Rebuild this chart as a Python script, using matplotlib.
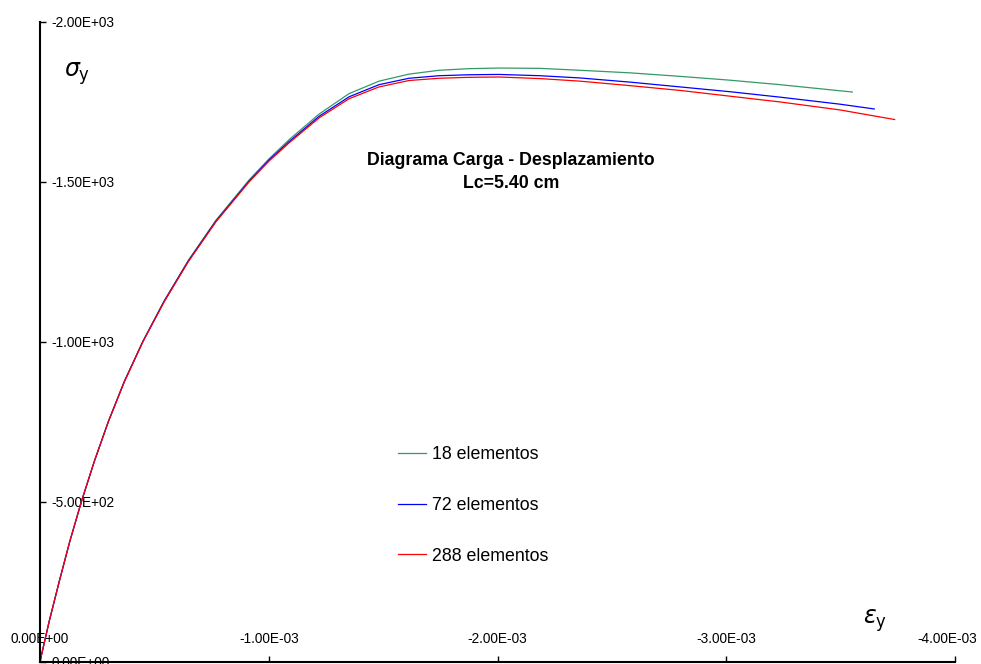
import numpy as np
import matplotlib.pyplot as plt
from matplotlib.ticker import FuncFormatter
from matplotlib.transforms import ScaledTranslation

plt.rcParams['font.family'] = ['Liberation Sans', 'DejaVu Sans']

# strain (x1e-3) and stress for each mesh
eps_288 = [0, -0.040, -0.084, -0.130, -0.181, -0.237, -0.299, -0.369, -0.450, -0.543,
           -0.648, -0.769, -0.914, -1.001, -1.089, -1.220, -1.351, -1.482, -1.613,
           -1.744, -1.875, -2.007, -2.186, -2.361, -2.579, -2.798, -3.016, -3.235,
           -3.497, -3.736]
sig_288 = [0, -125, -250, -375, -500, -625, -750, -875, -1000, -1125,
           -1250, -1375, -1500, -1565, -1622, -1700, -1760, -1797, -1817,
           -1824, -1827, -1828, -1823, -1815, -1801, -1786, -1768, -1750,
           -1725, -1695]

eps_72 = [0, -0.040, -0.084, -0.130, -0.181, -0.237, -0.299, -0.369, -0.450, -0.543,
          -0.648, -0.769, -0.914, -1.001, -1.089, -1.220, -1.351, -1.482, -1.613,
          -1.744, -1.875, -2.007, -2.186, -2.361, -2.579, -2.798, -3.016, -3.235,
          -3.497, -3.647]
sig_72 = [0, -125, -250, -375, -500, -625, -751, -876, -1001, -1127,
          -1252, -1377, -1502, -1568, -1626, -1705, -1766, -1804, -1824,
          -1832, -1835, -1836, -1832, -1825, -1812, -1797, -1782, -1765,
          -1743, -1728]

eps_18 = [0, -0.040, -0.084, -0.130, -0.181, -0.237, -0.299, -0.369, -0.450, -0.543,
          -0.648, -0.769, -0.914, -1.001, -1.089, -1.220, -1.351, -1.482, -1.613,
          -1.744, -1.875, -2.007, -2.186, -2.361, -2.579, -2.798, -3.016, -3.235,
          -3.551]
sig_18 = [0, -125, -250, -375, -500, -625, -751, -877, -1002, -1128,
          -1254, -1380, -1506, -1572, -1632, -1712, -1776, -1815, -1837,
          -1849, -1854, -1856, -1855, -1849, -1841, -1830, -1818, -1804,
          -1781]

labels = ['18 elementos', '72 elementos', '288 elementos']
colors = ['#339966', '#0000FF', '#FF0000']

fig = plt.figure(figsize=(9.81, 6.64), dpi=100)
ax = fig.add_axes([40/981, 2.5/664, 915/981, 639.5/664])

series = [(eps_18, sig_18), (eps_72, sig_72), (eps_288, sig_288)]
for (e, s), lab, c in zip(series, labels, colors):
    ax.plot(np.array(e) * 1e-3, s, color=c, lw=0.9, label=lab)

ax.set_xlim(0, -0.004)
ax.set_ylim(0, -2000)
ax.set_xticks([0, -0.001, -0.002, -0.003, -0.004])
ax.set_yticks([0, -500, -1000, -1500, -2000])
fmt = FuncFormatter(lambda v, p: f"{v:.2E}")
ax.xaxis.set_major_formatter(fmt)
ax.yaxis.set_major_formatter(fmt)

for sp in ['top', 'right']:
    ax.spines[sp].set_visible(False)
for sp in ['left', 'bottom']:
    ax.spines[sp].set_linewidth(1.5)

ax.tick_params(axis='both', direction='in', length=4, width=1, labelsize=9.8)
ax.tick_params(axis='y', pad=-8.2)
ax.tick_params(axis='x', pad=-11)
for t in ax.get_yticklabels():
    t.set_horizontalalignment('left')
for t in ax.get_xticklabels():
    t.set_verticalalignment('bottom')
# last x label is pulled in so it stays inside the picture
last = ax.get_xticklabels()[-1]
last.set_transform(last.get_transform() + ScaledTranslation(-0.08, 0, fig.dpi_scale_trans))

fig.text(511/981, 1 - 172/664, 'Diagrama Carga - Desplazamiento\nLc=5.40 cm',
         ha='center', va='center', fontsize=12.8, fontweight='bold', linespacing=1.45)

fig.text(64/981, 1 - 74/664, r'$\sigma_{\mathrm{y}}$', fontsize=17, va='center')
fig.text(863/981, 1 - 621/664, r'$\varepsilon_{\mathrm{y}}$', fontsize=17, va='center')

ax.legend(loc='upper left', bbox_to_anchor=(398/981, 1 - 446/664),
          bbox_transform=fig.transFigure, frameon=False, fontsize=12.8,
          borderpad=0, borderaxespad=0, labelspacing=1.9,
          handlelength=1.6, handletextpad=0.3)

plt.savefig('out.png', dpi=100)
